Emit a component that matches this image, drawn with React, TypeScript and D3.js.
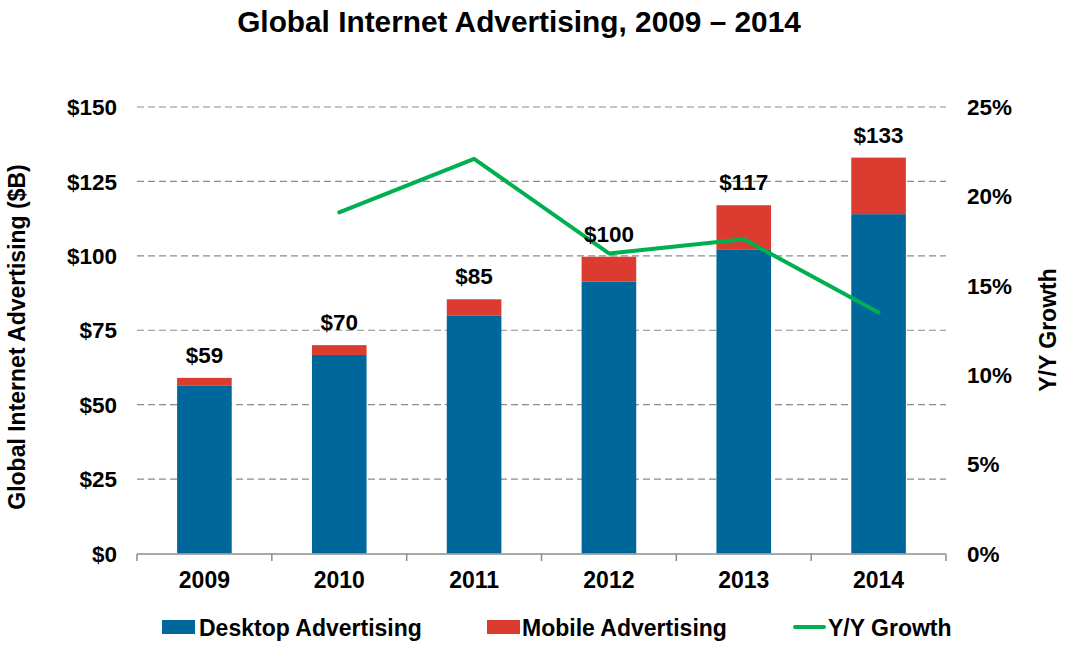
import React from "react";
import * as d3 from "d3";

const years = ["2009", "2010", "2011", "2012", "2013", "2014"];
const desktop = [56.5, 66.7, 80, 91.3, 102, 114];
const mobile = [2.5, 3.3, 5.4, 8.4, 15, 19];
const totalLabels = ["$59", "$70", "$85", "$100", "$117", "$133"];
const growthYears = ["2010", "2011", "2012", "2013", "2014"];
const growth = [19.1, 22.1, 16.8, 17.6, 13.5];
const leftTicks = [0, 25, 50, 75, 100, 125, 150];
const rightTicks = [0, 5, 10, 15, 20, 25];

const W = 1066, H = 650;
const FONT = "'Liberation Sans', Arial, sans-serif";
const BLUE = "#00679b";
const RED = "#db3c2f";
const GREEN = "#00b050";

export default function App() {
  const x = d3.scaleBand().domain(years).range([137, 946]).paddingInner(0.595).paddingOuter(0.2975);
  const yL = d3.scaleLinear().domain([0, 150]).range([553.5, 107]);
  const yR = d3.scaleLinear().domain([0, 25]).range([553.5, 107]);
  const stack = d3.stack<any>().keys(["desktop", "mobile"])(
    years.map((yr, i) => ({ year: yr, desktop: desktop[i], mobile: mobile[i] }))
  );
  const colors = [BLUE, RED];
  const line = d3
    .line<number>()
    .x((_, i) => (x(growthYears[i]) as number) + x.bandwidth() / 2)
    .y((d) => yR(d));
  const step = x.step();
  const x0 = 137;
  const boundaries = d3.range(years.length + 1).map((i) => x0 + i * step);

  return (
    <svg width={W} height={H} style={{ position: "absolute", left: 0, top: 0, background: "#fff" }} fontFamily={FONT} fontWeight="bold">
      <text x={519} y={32} textAnchor="middle" fontSize={29.8}>Global Internet Advertising, 2009 – 2014</text>
      {leftTicks.filter((t) => t > 0).map((t) => (
        <line key={t} x1={137} x2={946} y1={yL(t)} y2={yL(t)} stroke="#8c8c8c" strokeWidth={1.2} strokeDasharray="7,4" />
      ))}
      {stack.map((s, k) =>
        s.map((d, i) => (
          <rect key={k + "-" + i} x={x(years[i])} width={x.bandwidth()} y={yL(d[1])} height={yL(d[0]) - yL(d[1])} fill={colors[k]} />
        ))
      )}
      <line x1={137} x2={946} y1={554} y2={554} stroke="#8c8c8c" strokeWidth={1.5} />
      {boundaries.map((b, i) => (
        <line key={i} x1={b} x2={b} y1={554} y2={561} stroke="#8c8c8c" strokeWidth={1.5} />
      ))}
      <path d={line(growth) || ""} fill="none" stroke={GREEN} strokeWidth={4} strokeLinejoin="round" strokeLinecap="round" />
      {years.map((yr, i) => (
        <text key={yr} x={(x(yr) as number) + x.bandwidth() / 2} y={yL(desktop[i] + mobile[i]) - 15} textAnchor="middle" fontSize={22.5}>{totalLabels[i]}</text>
      ))}
      {years.map((yr) => (
        <text key={yr} x={(x(yr) as number) + x.bandwidth() / 2} y={588} textAnchor="middle" fontSize={23}>{yr}</text>
      ))}
      {leftTicks.map((t) => (
        <text key={t} x={117} y={yL(t)} dy="0.36em" textAnchor="end" fontSize={22.5}>{"$" + t}</text>
      ))}
      {rightTicks.map((t) => (
        <text key={t} x={967} y={yR(t)} dy="0.36em" textAnchor="start" fontSize={22.5}>{t + "%"}</text>
      ))}
      <text transform="translate(25,337) rotate(-90)" textAnchor="middle" fontSize={23}>Global Internet Advertising ($B)</text>
      <text transform="translate(1056,330) rotate(-90)" textAnchor="middle" fontSize={23}>Y/Y Growth</text>
      <rect x={162} y={620} width={33} height={14} fill={BLUE} />
      <text x={199} y={636} fontSize={23}>Desktop Advertising</text>
      <rect x={487} y={620} width={33} height={14} fill={RED} />
      <text x={522} y={636} fontSize={23}>Mobile Advertising</text>
      <line x1={795} x2={824} y1={627} y2={627} stroke={GREEN} strokeWidth={4} strokeLinecap="round" />
      <text x={828} y={636} fontSize={23}>Y/Y Growth</text>
    </svg>
  );
}
